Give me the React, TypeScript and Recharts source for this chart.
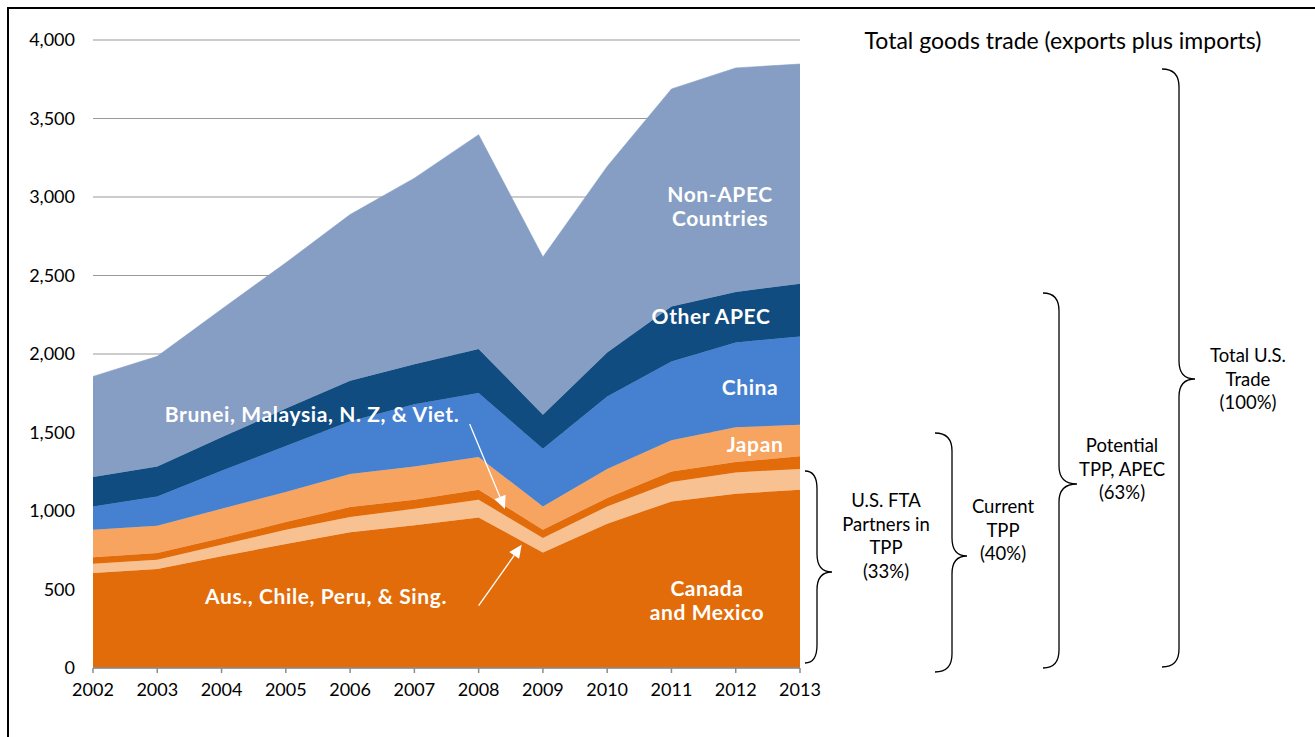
import React from "react";
import {
  AreaChart,
  Area,
  XAxis,
  YAxis,
  CartesianGrid,
  ReferenceLine,
} from "recharts";

const years = [2002, 2003, 2004, 2005, 2006, 2007, 2008, 2009, 2010, 2011, 2012, 2013];

// billions of US$ (bottom to top)
const canadaMexico = [605, 631, 711, 790, 864, 910, 959, 736, 919, 1061, 1110, 1136];
const ausChilePeruSing = [59, 59, 74, 91, 98, 105, 113, 92, 110, 124, 136, 132];
const bruneiMalaysiaNzViet = [41, 43, 43, 49, 63, 57, 64, 53, 54, 67, 66, 80];
const japan = [176, 173, 187, 191, 211, 212, 208, 148, 185, 198, 221, 202];
const china = [148, 187, 242, 293, 335, 396, 408, 368, 462, 503, 541, 562];
const otherApec = [188, 191, 212, 239, 259, 255, 280, 216, 280, 349, 321, 336];
const nonApec = [640, 701, 816, 928, 1058, 1185, 1365, 1005, 1185, 1386, 1427, 1399];

const yTicks = [0, 500, 1000, 1500, 2000, 2500, 3000, 3500, 4000];

const data = years.map((year, i) => ({
  year,
  canadaMexico: canadaMexico[i],
  ausChilePeruSing: ausChilePeruSing[i],
  bruneiMalaysiaNzViet: bruneiMalaysiaNzViet[i],
  japan: japan[i],
  china: china[i],
  otherApec: otherApec[i],
  nonApec: nonApec[i],
}));

const series = [
  { key: "canadaMexico", color: "#E36C0A" },
  { key: "ausChilePeruSing", color: "#F8C192" },
  { key: "bruneiMalaysiaNzViet", color: "#E36C0A" },
  { key: "japan", color: "#F6A460" },
  { key: "china", color: "#4581D0" },
  { key: "otherApec", color: "#104C80" },
  { key: "nonApec", color: "#869EC4" },
];

const FONT = "Lato, 'Open Sans', sans-serif";

// arrows pointing at the thin bands, in data coordinates
const arrows = [
  [{ x: 2007.86, y: 1554 }, { x: 2008.41, y: 1013 }],
  [{ x: 2008.0, y: 397 }, { x: 2008.67, y: 785 }],
];

const Arrow = (props: any) => {
  const { x1, y1, x2, y2 } = props;
  const a = Math.atan2(y2 - y1, x2 - x1);
  const len = 13;
  const w = 6;
  const bx = x2 - len * Math.cos(a);
  const by = y2 - len * Math.sin(a);
  const p1 = `${bx + w * Math.sin(a)},${by - w * Math.cos(a)}`;
  const p2 = `${bx - w * Math.sin(a)},${by + w * Math.cos(a)}`;
  return (
    <g>
      <line x1={x1} y1={y1} x2={bx} y2={by} stroke="#fff" strokeWidth={1.3} />
      <polygon points={`${x2},${y2} ${p1} ${p2}`} fill="#fff" />
    </g>
  );
};

const brace = (endX: number, bodyX: number, tipX: number, top: number, tip: number, bottom: number) => {
  const r = 18;
  return `M ${endX} ${top} Q ${bodyX} ${top} ${bodyX} ${top + r} L ${bodyX} ${tip - r} Q ${bodyX} ${tip} ${tipX} ${tip} Q ${bodyX} ${tip} ${bodyX} ${tip + r} L ${bodyX} ${bottom - r} Q ${bodyX} ${bottom} ${endX} ${bottom}`;
};

const braces = [
  { path: brace(805, 817, 832, 471, 572, 663), cx: 886, lines: ["U.S. FTA", "Partners in", "TPP", "(33%)"], y0: 500 },
  { path: brace(935, 952, 967, 433, 556, 672), cx: 1003, lines: ["Current", "TPP", "(40%)"], y0: 506 },
  { path: brace(1043, 1059, 1077, 293, 484, 668), cx: 1122, lines: ["Potential", "TPP, APEC", "(63%)"], y0: 445 },
  { path: brace(1162, 1179, 1195, 69, 379, 667), cx: 1248, lines: ["Total U.S.", "Trade", "(100%)"], y0: 355 },
];

const areaLabels = [
  { x: 720, y: 193, text: "Non-APEC" },
  { x: 720, y: 217, text: "Countries" },
  { x: 711, y: 315, text: "Other APEC" },
  { x: 750, y: 386, text: "China" },
  { x: 755, y: 443, text: "Japan" },
  { x: 707, y: 587, text: "Canada" },
  { x: 707, y: 611, text: "and Mexico" },
  { x: 312, y: 413, text: "Brunei, Malaysia, N. Z, & Viet." },
  { x: 326, y: 595, text: "Aus., Chile, Peru, & Sing." },
];

export default function App() {
  return (
    <div style={{ position: "fixed", inset: 0, overflow: "hidden", background: "#fff", fontFamily: FONT }}>
      <div
        style={{
          position: "absolute",
          left: 7,
          top: 7,
          right: -10,
          bottom: -10,
          borderTop: "2px solid #000",
          borderLeft: "2px solid #000",
        }}
      />
      <div style={{ position: "absolute", left: 0, top: 0 }}>
        <AreaChart
          width={1315}
          height={737}
          data={data}
          margin={{ top: 40, right: 515, left: 0, bottom: 39 }}
        >
          <CartesianGrid horizontal vertical={false} stroke="#9a9a9a" strokeWidth={1.2} />
          <XAxis
            dataKey="year"
            type="number"
            domain={[2002, 2013]}
            ticks={years}
            allowDecimals={false}
            height={30}
            axisLine={{ stroke: "#8c8c8c", strokeWidth: 1.5 }}
            tickLine={{ stroke: "#8c8c8c", strokeWidth: 1.5 }}
            tickSize={5}
            tickMargin={10}
            tick={{ fill: "#000", fontSize: 18, fontFamily: FONT }}
          />
          <YAxis
            domain={[0, 4000]}
            ticks={yTicks}
            width={93}
            axisLine={false}
            tickLine={false}
            tickSize={0}
            tickMargin={18}
            tickFormatter={(v: number) => v.toLocaleString("en-US")}
            tick={{ fill: "#000", fontSize: 18, fontFamily: FONT }}
          />
          {series.map((s) => (
            <Area
              key={s.key}
              type="linear"
              dataKey={s.key}
              stackId="trade"
              fill={s.color}
              fillOpacity={1}
              stroke={s.color}
              strokeWidth={0.6}
              dot={false}
              activeDot={false}
              isAnimationActive={false}
            />
          ))}
          {arrows.map((seg, i) => (
            <ReferenceLine key={i} segment={seg} shape={Arrow} ifOverflow="visible" />
          ))}
        </AreaChart>
      </div>
      <svg
        width={1315}
        height={737}
        style={{ position: "absolute", left: 0, top: 0, pointerEvents: "none" }}
      >
        {areaLabels.map((l, i) => (
          <text
            key={i}
            x={l.x}
            y={l.y}
            textAnchor="middle"
            dominantBaseline="central"
            fill="#fff"
            fontWeight={700}
            fontSize={21}
            letterSpacing={0.6}
            fontFamily={FONT}
          >
            {l.text}
          </text>
        ))}
        <text x={1063} y={40} textAnchor="middle" dominantBaseline="central" fontSize={23} fontFamily={FONT} fill="#000">
          Total goods trade (exports plus imports)
        </text>
        {braces.map((b, i) => (
          <g key={i}>
            <path d={b.path} fill="none" stroke="#000" strokeWidth={1.3} />
            {b.lines.map((t, j) => (
              <text
                key={j}
                x={b.cx}
                y={b.y0 + j * 23.7}
                textAnchor="middle"
                dominantBaseline="central"
                fontSize={18.5}
                fontFamily={FONT}
                fill="#000"
              >
                {t}
              </text>
            ))}
          </g>
        ))}
      </svg>
    </div>
  );
}
